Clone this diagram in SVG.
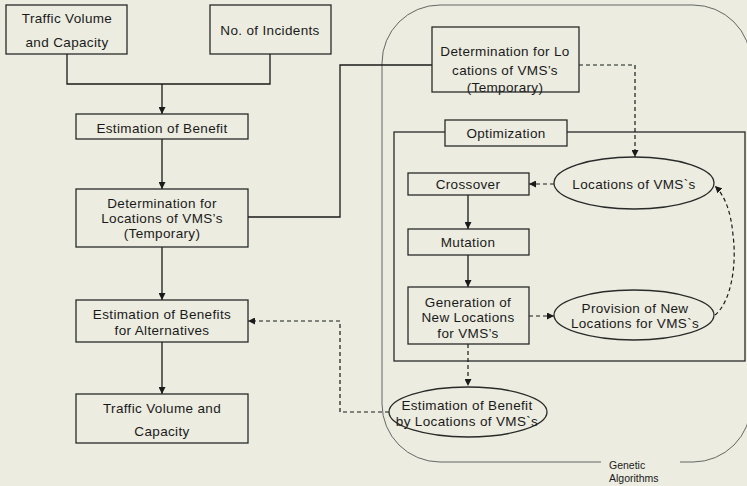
<svg xmlns="http://www.w3.org/2000/svg" width="747" height="486" viewBox="0 0 747 486">
  <style>
    .bg { fill: #ECECE0; }
    .box { fill: #ECECE0; stroke: #2a2a2a; stroke-width: 1.3; }
    .ga { fill: none; stroke: #666; stroke-width: 1; }
    .t { font-family: "Liberation Sans", Arial, sans-serif; font-size: 13.5px; fill: #1a1a1a; text-anchor: middle; dominant-baseline: central; letter-spacing: 0.35px; }
    .small { font-family: "Liberation Sans", Arial, sans-serif; font-size: 10.5px; fill: #1a1a1a; }
    .ln { fill: none; stroke: #1a1a1a; stroke-width: 1.3; }
    .dash { fill: none; stroke: #1a1a1a; stroke-width: 1.2; stroke-dasharray: 4 3; }
  </style>
  <defs>
    <marker id="arr" viewBox="0 0 10 10" refX="10" refY="5" markerWidth="7" markerHeight="7" markerUnits="userSpaceOnUse" orient="auto">
      <path d="M0,0 L10,5 L0,10 Z" fill="#1a1a1a"/>
    </marker>
  </defs>

  <rect class="bg" x="0" y="0" width="747" height="486"/>

  <!-- Genetic algorithms region -->
  <g id="genetic-algorithms">
    <rect class="ga" x="382" y="5" width="369" height="457" rx="58" ry="58"/>
    <rect class="bg" x="601" y="458" width="79" height="8"/>
    <text class="small" x="609" y="469">Genetic</text>
    <text class="small" x="609" y="482">Algorithms</text>
  </g>

  <!-- Optimization region -->
  <g id="optimization">
    <rect class="box" x="394" y="132" width="351" height="229"/>
    <rect class="box" x="445" y="120" width="122" height="26"/>
    <text class="t" x="506" y="133">Optimization</text>
  </g>

  <g id="connectors">
    <!-- left column -->
    <path class="ln" d="M67,54 V84 H270 V54"/>
    <path class="ln" d="M162,84 V114" marker-end="url(#arr)"/>
    <path class="ln" d="M162,139 V189" marker-end="url(#arr)"/>
    <path class="ln" d="M162,247 V300" marker-end="url(#arr)"/>
    <path class="ln" d="M162,342 V394" marker-end="url(#arr)"/>
    <path class="ln" d="M248,217 H340 V65 H432"/>
    <!-- genetic algorithm loop -->
    <path class="dash" d="M579,65 H635 V157" marker-end="url(#arr)"/>
    <path class="dash" d="M554,184 H529" marker-end="url(#arr)"/>
    <path class="ln" d="M468,195 V229" marker-end="url(#arr)"/>
    <path class="ln" d="M468,255 V287" marker-end="url(#arr)"/>
    <path class="dash" d="M529,316 H554" marker-end="url(#arr)"/>
    <path class="dash" d="M715,315 C731,302 737,265 733,235 C731,212 725,196 715,186" marker-end="url(#arr)"/>
    <path class="dash" d="M468,344 V386" marker-end="url(#arr)"/>
    <path class="dash" d="M389,412 H340 V321 H248" marker-end="url(#arr)"/>
  </g>

  <g id="traffic-volume-input">
    <rect class="box" x="6" y="5" width="121" height="49"/>
    <text class="t" x="67" y="18">Traffic Volume</text>
    <text class="t" x="67" y="42">and Capacity</text>
  </g>

  <g id="incidents">
    <rect class="box" x="210" y="5" width="121" height="49"/>
    <text class="t" x="270" y="30">No. of Incidents</text>
  </g>

  <g id="estimation-benefit">
    <rect class="box" x="76" y="114" width="172" height="25"/>
    <text class="t" x="162" y="128">Estimation of Benefit</text>
  </g>

  <g id="determination-left">
    <rect class="box" x="76" y="189" width="172" height="58"/>
    <text class="t" x="162" y="203">Determination for</text>
    <text class="t" x="162" y="218">Locations of VMS’s</text>
    <text class="t" x="162" y="233">(Temporary)</text>
  </g>

  <g id="estimation-alternatives">
    <rect class="box" x="76" y="300" width="172" height="42"/>
    <text class="t" x="162" y="314">Estimation of Benefits</text>
    <text class="t" x="162" y="330">for Alternatives</text>
  </g>

  <g id="traffic-volume-output">
    <rect class="box" x="76" y="394" width="172" height="49"/>
    <text class="t" x="162" y="408">Traffic Volume and</text>
    <text class="t" x="162" y="431">Capacity</text>
  </g>

  <g id="determination-ga">
    <rect class="box" x="432" y="27" width="147" height="65"/>
    <text class="t" x="505" y="51">Determination for Lo</text>
    <text class="t" x="505" y="70">cations of VMS’s</text>
    <text class="t" x="505" y="87">(Temporary)</text>
  </g>

  <g id="locations">
    <ellipse class="box" cx="634" cy="183" rx="80" ry="26"/>
    <text class="t" x="634" y="184">Locations of VMS`s</text>
  </g>

  <g id="crossover">
    <rect class="box" x="408" y="173" width="121" height="22"/>
    <text class="t" x="468" y="184">Crossover</text>
  </g>

  <g id="mutation">
    <rect class="box" x="408" y="229" width="121" height="26"/>
    <text class="t" x="468" y="242">Mutation</text>
  </g>

  <g id="generation">
    <rect class="box" x="408" y="287" width="121" height="57"/>
    <text class="t" x="468" y="302">Generation of</text>
    <text class="t" x="468" y="317">New Locations</text>
    <text class="t" x="468" y="333">for VMS’s</text>
  </g>

  <g id="provision">
    <ellipse class="box" cx="634" cy="315" rx="80" ry="25"/>
    <text class="t" x="635" y="308">Provision of New</text>
    <text class="t" x="635" y="323">Locations for VMS`s</text>
  </g>

  <g id="estimation-by-locations">
    <ellipse class="box" cx="468" cy="412" rx="79" ry="25"/>
    <text class="t" x="467" y="405">Estimation of Benefit</text>
    <text class="t" x="467" y="421">by Locations of VMS`s</text>
  </g>
</svg>
